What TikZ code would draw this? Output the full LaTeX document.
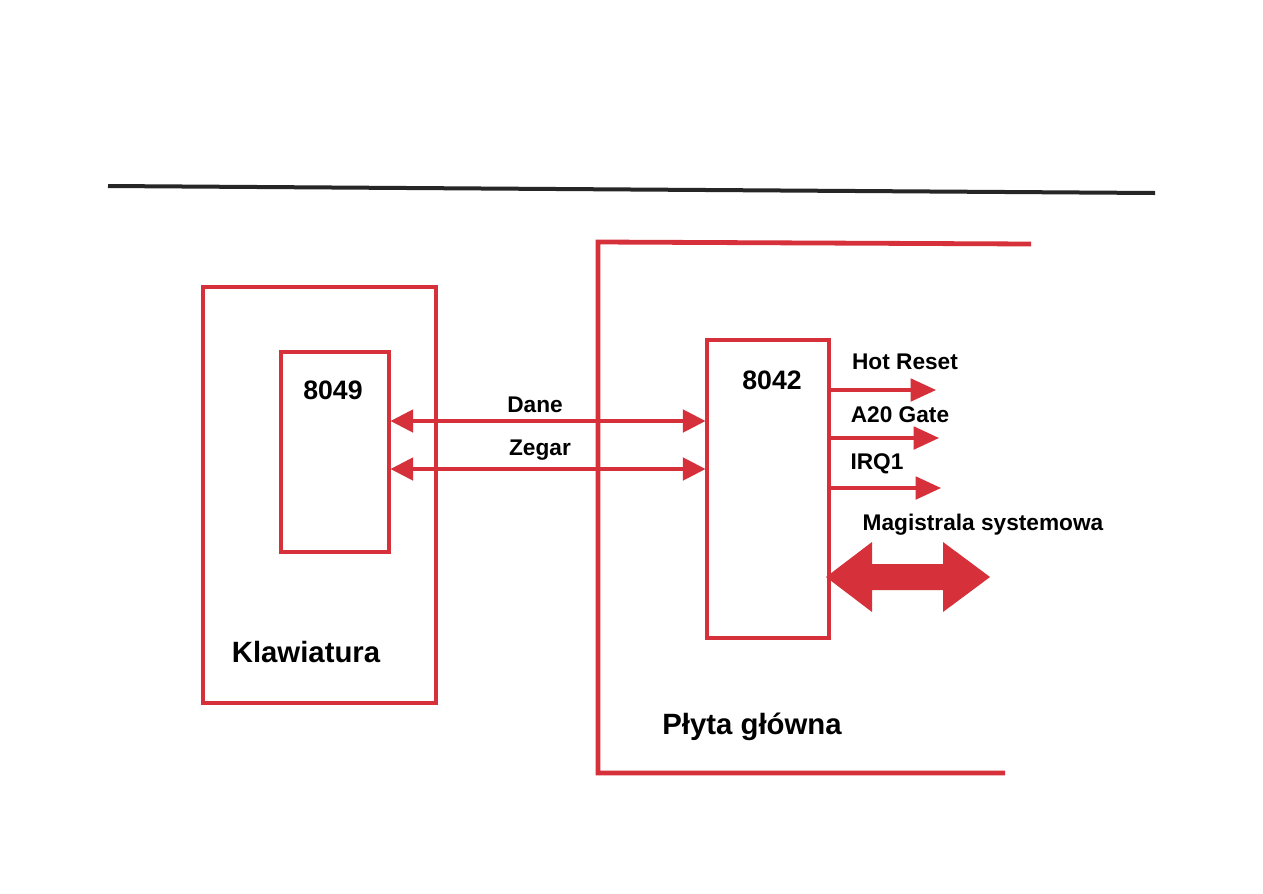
\documentclass[tikz,border=0pt]{standalone}
\usepackage{fontspec}
\setmainfont{Liberation Sans}
\usetikzlibrary{arrows.meta}
\definecolor{myred}{RGB}{214,48,58}
\begin{document}
\begin{tikzpicture}[x=0.75pt,y=-0.75pt,
  frame/.style={draw=myred,line width=3.6pt},
  chip/.style={draw=myred,line width=2.3pt,rectangle,inner sep=0pt},
  sig/.style={draw=myred,line width=2.3pt},
  biarrow/.style={sig,{Triangle[length=17pt,width=17pt,fill=myred]}-{Triangle[length=17pt,width=17pt,fill=myred]}},
  outarrow/.style={sig,-{Triangle[length=19pt,width=17pt,fill=myred]}},
  lbl/.style={font=\fontsize{17}{20}\selectfont\bfseries,inner sep=0pt},
  big/.style={font=\fontsize{22}{25}\selectfont\bfseries,inner sep=0pt},
  num/.style={font=\fontsize{20}{24}\selectfont\bfseries,inner sep=0pt}]
\useasboundingbox[fill=white] (0,0) rectangle (1263,893);
% top black rule
\draw[line width=3pt,black!85] (108,186) -- (1155,193);
% keyboard
\node[chip,line width=3.6pt,minimum width=174.75pt,minimum height=312pt] (kbd) at (319.5,495) {};
\node[chip,minimum width=81pt,minimum height=150pt] (c8049) at (335,452) {};
\node[num] (t8049) at (333,390) {8049};
\node[big] (tkbd) at (306,652) {Klawiatura};
% mainboard frame
\draw[frame] (1031,244) -- (598,242) -- (598,773) -- (1005,773);
\node[big] (tmb) at (752,727) {Płyta główna};
\node[chip,minimum width=91.5pt,minimum height=223.5pt] (c8042) at (768,489) {};
\node[num] (t8042) at (772,380) {8042};
% Dane / Zegar
\coordinate (yd) at (0,421);
\coordinate (yz) at (0,469);
\draw[biarrow] (c8049.east |- yd) -- (c8042.west |- yd);
\draw[biarrow] (c8049.east |- yz) -- (c8042.west |- yz);
\node[lbl] (tdane) at (535,405) {Dane};
\node[lbl] (tzegar) at (540,450) {Zegar};
% outputs
\node[lbl] (thr) at (905,362) {Hot Reset};
\node[lbl] (ta20) at (900,415) {A20 Gate};
\node[lbl] (tirq) at (877,464) {IRQ1};
\node[lbl] (tmag) at (983,525) {Magistrala systemowa};
\coordinate (ohr) at (936,390);
\coordinate (oa20) at (939,438);
\coordinate (oirq) at (941,488);
\draw[outarrow] (c8042.east |- ohr) -- (ohr);
\draw[outarrow] (c8042.east |- oa20) -- (oa20);
\draw[outarrow] (c8042.east |- oirq) -- (oirq);
% system bus double arrow
\coordinate (busl) at (826,577);
\coordinate (busr) at (990,577);
\fill[myred] (busl) -- (872,542) -- (872,564) -- (943,564) -- (943,542)
  -- (busr) -- (943,612) -- (943,590) -- (872,590) -- (872,612) -- cycle;
\end{tikzpicture}
\end{document}
